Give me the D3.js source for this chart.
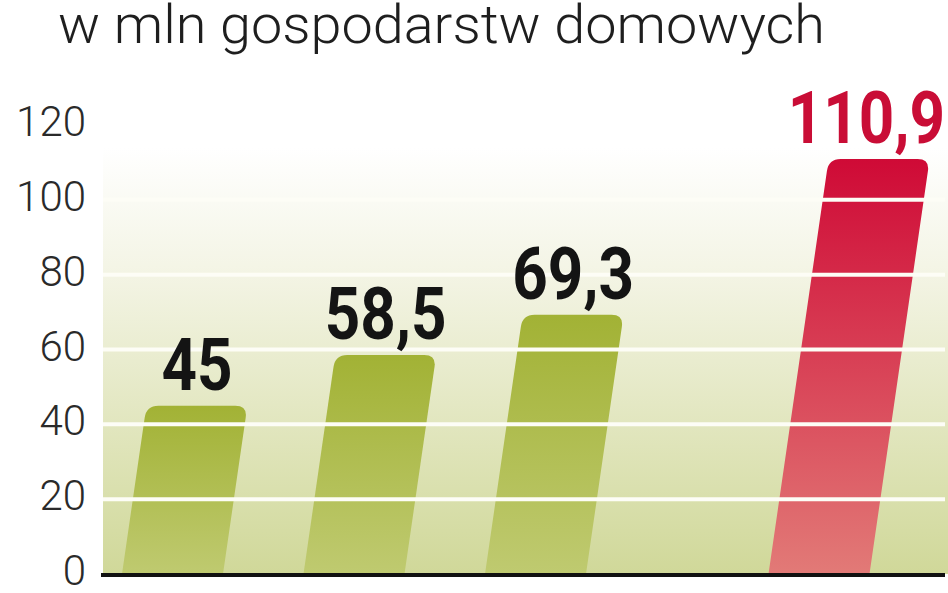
<!DOCTYPE html>
<html>
<head>
<meta charset="utf-8">
<script src="https://cdn.jsdelivr.net/npm/d3@7"></script>
<style>
  html, body { margin: 0; padding: 0; background: #ffffff; }
  svg { display: block; }
</style>
</head>
<body>
<div id="chart"></div>
<script>
// ---- data ----
const categories = ["okres 1", "okres 2", "okres 3", "prognoza"];
const values = [45, 58.5, 69.3, 110.9];
const valueLabels = ["45", "58,5", "69,3", "110,9"];
const isForecast = [false, false, false, true];
const yTicks = [0, 20, 40, 60, 80, 100, 120];
const gridTicks = [20, 40, 60, 80, 100];
const titleText = "w mln gospodarstw domowych";

// ---- layout ----
const W = 948, H = 593;
const svg = d3.select("#chart").append("svg").attr("width", W).attr("height", H);

const y = d3.scaleLinear().domain([0, 120]).range([574, 125]);
const x = d3.scaleBand().domain(categories).range([122, 767.5]).paddingInner(0.4435).paddingOuter(0);
const forecastGap = 102;
const slope = 0.145;
const bw = x.bandwidth();

const defs = svg.append("defs");
function vgrad(id, stops) {
  const g = defs.append("linearGradient").attr("id", id)
    .attr("x1", 0).attr("y1", 0).attr("x2", 0).attr("y2", 1);
  stops.forEach(s => g.append("stop").attr("offset", s[0]).attr("stop-color", s[1]));
}
vgrad("bgGrad", [[0, "#ffffff"], [0.3, "#f3f4e4"], [1, "#d0d899"]]);
vgrad("greenGrad", [[0, "#a2b235"], [1, "#bfca70"]]);
vgrad("redGrad", [[0, "#cf0a36"], [1, "#e27a77"]]);

// background panel
svg.append("rect")
  .attr("x", 103).attr("y", 148)
  .attr("width", W - 103).attr("height", y(0) - 148)
  .attr("fill", "url(#bgGrad)");

// title
svg.append("text")
  .attr("x", 58).attr("y", 43)
  .attr("font-family", "Roboto, 'Liberation Sans Narrow', sans-serif")
  .attr("font-weight", 300)
  .attr("font-size", 54)
  .attr("fill", "#1e1e1e")
  .attr("textLength", 767)
  .attr("lengthAdjust", "spacingAndGlyphs")
  .text(titleText);

// bars
function barX(i) { return x(categories[i]) + (isForecast[i] ? forecastGap : 0); }
function barPath(i) {
  const x0 = barX(i), y0 = y(0), yt = y(values[i]);
  const h = y0 - yt, s = slope * h, r = 12;
  const ls = s * (1 - r / h);
  return [
    "M", x0, y0,
    "L", x0 + ls, yt + r,
    "Q", x0 + s, yt, x0 + s + r, yt,
    "L", x0 + s + bw - r, yt,
    "Q", x0 + s + bw, yt, x0 + bw + ls, yt + r,
    "L", x0 + bw, y0,
    "Z"
  ].join(" ");
}

svg.append("g").selectAll("path")
  .data(values)
  .join("path")
  .attr("d", (d, i) => barPath(i))
  .attr("fill", (d, i) => isForecast[i] ? "url(#redGrad)" : "url(#greenGrad)");

// grid lines (over bars)
svg.append("g").selectAll("line")
  .data(gridTicks)
  .join("line")
  .attr("x1", 103).attr("x2", 945)
  .attr("y1", d => y(d)).attr("y2", d => y(d))
  .attr("stroke", "#fdfdf6")
  .attr("stroke-width", 4);

// baseline
svg.append("line")
  .attr("x1", 101).attr("x2", 945)
  .attr("y1", y(0) + 1).attr("y2", y(0) + 1)
  .attr("stroke", "#111")
  .attr("stroke-width", 4);

// y tick labels
svg.append("g").selectAll("text")
  .data(yTicks)
  .join("text")
  .attr("x", 86)
  .attr("y", d => y(d) + 11)
  .attr("text-anchor", "end")
  .attr("font-family", "Roboto, 'Liberation Sans', sans-serif")
  .attr("font-weight", 300)
  .attr("font-size", 42)
  .attr("fill", "#2a2a2a")
  .text(d => d);

// value labels
const vl = svg.append("g").selectAll("text")
  .data(values)
  .join("text")
  .attr("x", (d, i) => barX(i) + slope * (y(0) - y(d)) + bw / 2)
  .attr("y", d => y(d) - 16)
  .attr("text-anchor", "middle")
  .attr("font-family", "Roboto, 'DejaVu Sans', sans-serif")
  .attr("font-weight", 700)
  .attr("font-size", 72)
  .attr("fill", (d, i) => isForecast[i] ? "#c90d36" : "#141414")
  .text((d, i) => valueLabels[i]);

// condense the bold labels and keep them inside the picture
vl.each(function () {
  const t = d3.select(this);
  const len = this.getComputedTextLength() * 0.86;
  t.attr("textLength", len).attr("lengthAdjust", "spacingAndGlyphs");
  const cx = +t.attr("x");
  if (cx + len / 2 > W - 3) t.attr("x", W - 3 - len / 2);
});
</script>
</body>
</html>
